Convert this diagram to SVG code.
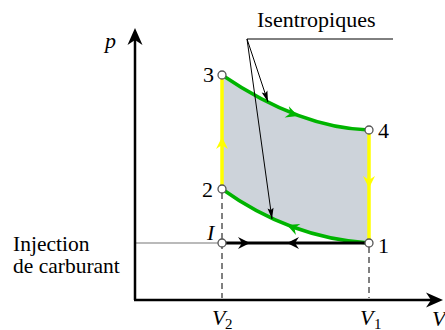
<svg xmlns="http://www.w3.org/2000/svg" xmlns:xlink="http://www.w3.org/1999/xlink" width="445" height="330" viewBox="0 0 445 330">
<style>
text{font-family:"Liberation Serif","Times New Roman",serif;font-size:22px;fill:#000}
.it{font-style:italic}
.sub{font-size:15px}
.lbl{font-size:21.5px}
.green{fill:none;stroke:#00b400;stroke-width:3.5;stroke-linecap:round}
.yellow{fill:none;stroke:#ffff00;stroke-width:3.5}
.dash{fill:none;stroke:#000;stroke-width:1;stroke-dasharray:6,4}
.thin{fill:none;stroke:#000;stroke-width:1}
.pt{fill:#fff;stroke:#555;stroke-width:1.3}
</style>
<defs>
<path id="ah" d="M0,0 L-12,-6 L-8,0 L-12,6 Z"/>
<path id="axh" d="M0,0 L-17,-7.5 L-12,0 L-17,7.5 Z"/>
<path id="sh" d="M0,0 L-11,-3 L-9,0 L-11,3 Z"/>
</defs>
<g id="cycle-area">
<path d="M222,75 Q300,128 369,130 L369,243 Q290,238 222,189 Z" fill="#cdd3da"/>
</g>
<g id="connectors">
<line class="dash" x1="222" y1="193" x2="222" y2="298"/>
<line class="dash" x1="369" y1="247" x2="369" y2="298"/>
<line x1="135" y1="243" x2="218" y2="243" stroke="#777" stroke-width="1.2"/>
<line class="yellow" x1="222" y1="189" x2="222" y2="75"/>
<line class="yellow" x1="369" y1="130" x2="369" y2="243"/>
<path class="green" d="M222,75 Q300,128 369,130"/>
<path class="green" d="M369,243 Q290,238 222,189"/>
<line x1="222" y1="243" x2="369" y2="243" stroke="#000" stroke-width="3"/>
<use xlink:href="#ah" fill="#ffff00" transform="translate(222,137) rotate(-90)"/>
<use xlink:href="#ah" fill="#ffff00" transform="translate(369,188) rotate(90)"/>
<use xlink:href="#ah" fill="#00b400" transform="translate(298,116) rotate(20.5)"/>
<use xlink:href="#ah" fill="#00b400" transform="translate(287,225) rotate(201.8)"/>
<use xlink:href="#ah" fill="#000" transform="translate(250,243)"/>
<use xlink:href="#ah" fill="#000" transform="translate(287,243) rotate(180)"/>
<polyline class="thin" points="393,39 247,39 268,102"/>
<line class="thin" x1="247" y1="39" x2="272" y2="219"/>
<use xlink:href="#sh" fill="#000" transform="translate(268,102) rotate(71.6)"/>
<use xlink:href="#sh" fill="#000" transform="translate(272,219) rotate(82.4)"/>
</g>
<g id="axes">
<line x1="135" y1="300" x2="135" y2="34" stroke="#000" stroke-width="2.5"/>
<line x1="134" y1="300" x2="436" y2="300" stroke="#000" stroke-width="2.5"/>
<use xlink:href="#axh" fill="#000" transform="translate(135,28) rotate(-90)"/>
<use xlink:href="#axh" fill="#000" transform="translate(443,300)"/>
<text class="it" x="105" y="48">p</text>
<text class="it" x="432" y="326">V</text>
<text class="it" x="212" y="325">V</text><text class="sub" x="225" y="329">2</text>
<text class="it" x="360" y="325">V</text><text class="sub" x="374" y="329">1</text>
</g>
<g id="node-3"><circle class="pt" cx="222" cy="75" r="4"/><text x="214" y="82" text-anchor="end">3</text></g>
<g id="node-4"><circle class="pt" cx="369" cy="130" r="4"/><text x="378" y="138">4</text></g>
<g id="node-2"><circle class="pt" cx="222" cy="189" r="4"/><text x="213" y="197" text-anchor="end">2</text></g>
<g id="node-1"><circle class="pt" cx="369" cy="243" r="4"/><text x="378" y="253">1</text></g>
<g id="node-I"><circle class="pt" cx="222" cy="243" r="4"/><text class="it" x="207" y="240">I</text></g>
<g id="label-isentropiques"><text x="257" y="27">Isentropiques</text></g>
<g id="label-injection"><text class="lbl" x="13" y="251">Injection</text><text class="lbl" x="13" y="273">de carburant</text></g>
</svg>
